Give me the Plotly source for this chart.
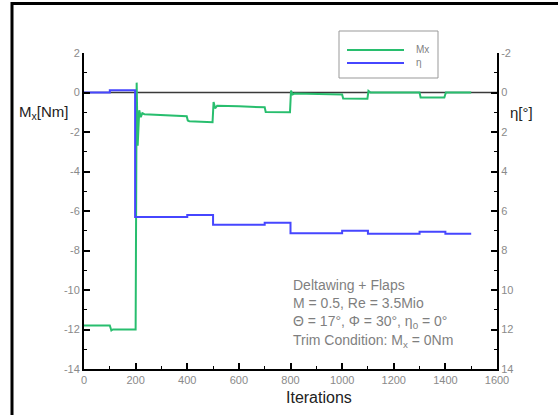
import plotly.graph_objects as go

# Rolling moment Mx [Nm] over solver iterations
mx_iter = [0, 100, 106, 112, 200, 204, 208, 214, 220, 226, 234, 260, 300, 398, 402, 408,
           498, 502, 508, 516, 600, 700, 704, 798, 802, 808, 816, 900, 1000, 1004,
           1098, 1102, 1110, 1200, 1300, 1304, 1396, 1402, 1500]
mx_val = [-11.8, -11.8, -12.05, -12.0, -12.0, 0.5, -2.7, -0.9, -1.25, -1.05, -1.1, -1.12, -1.15,
          -1.2, -1.42, -1.45, -1.5, -0.48, -0.8, -0.67, -0.7, -0.75, -0.99, -1.0, 0.1, -0.1,
          -0.05, -0.07, -0.1, -0.3, -0.32, 0.08, 0.0, 0.0, 0.0, -0.25, -0.25, 0.0, 0.0]

# Flap deflection eta [deg] over solver iterations
eta_iter = [0, 100, 100, 198, 198, 400, 400, 500, 500, 700, 700, 800, 800, 1000, 1000,
            1100, 1100, 1300, 1300, 1400, 1400, 1500]
eta_val = [0.0, 0.0, -0.12, -0.12, 6.3, 6.3, 6.2, 6.2, 6.7, 6.7, 6.6, 6.6, 7.13, 7.13, 7.0,
           7.0, 7.15, 7.15, 7.05, 7.05, 7.15, 7.15]

left_ticks = [2, 0, -2, -4, -6, -8, -10, -12, -14]
right_ticks = [-2, 0, 2, 4, 6, 8, 10, 12, 14]
x_ticks = [0, 200, 400, 600, 800, 1000, 1200, 1400, 1600]

GREEN = "rgb(40,190,110)"
BLUE = "rgb(70,70,255)"
TICKFONT = dict(family="Liberation Sans, Arial, sans-serif", size=11, color="#8a8a8a")

W, H = 558, 415
L, R, T, B = 84, 497, 53, 369


def px(x):
    return (x - L) / (R - L)


def py(y):
    return (B - y) / (B - T)


fig = go.Figure()
fig.add_trace(go.Scatter(x=mx_iter, y=mx_val, mode="lines", name="Mx",
                         line=dict(color=GREEN, width=2), showlegend=False))
fig.add_trace(go.Scatter(x=eta_iter, y=eta_val, mode="lines", name="η", yaxis="y2",
                         line=dict(color=BLUE, width=2), showlegend=False))

axis_common = dict(showline=True, linecolor="black", linewidth=2, ticks="inside",
                   ticklen=6, tickwidth=2, tickcolor="black", showgrid=False,
                   zeroline=False, tickfont=TICKFONT)

fig.update_layout(
    width=W, height=H,
    margin=dict(l=L, r=W - R, t=T, b=H - B),
    paper_bgcolor="white", plot_bgcolor="white",
    xaxis=dict(range=[0, 1600], tickvals=x_ticks, ticktext=[str(v) for v in x_ticks],
               minor=dict(ticks="inside", ticklen=3, tickwidth=1, tickcolor="black", dtick=100),
               **axis_common),
    yaxis=dict(range=[-14, 2], tickvals=left_ticks, ticktext=[str(v) for v in left_ticks],
               minor=dict(ticks="inside", ticklen=3, tickwidth=1, tickcolor="black", dtick=1),
               **axis_common),
    yaxis2=dict(range=[14, -2], overlaying="y", side="right", anchor="x",
                tickvals=right_ticks, ticktext=[str(v) for v in right_ticks],
                minor=dict(ticks="inside", ticklen=3, tickwidth=1, tickcolor="black", dtick=1),
                **axis_common),
)

shapes = [
    # zero reference line
    dict(type="line", xref="x", yref="y", x0=0, x1=1600, y0=0, y1=0,
         line=dict(color="#3a3a3a", width=1.5), layer="below"),
    # outer frame
    dict(type="line", xref="paper", yref="paper", x0=px(12), x1=px(12), y0=py(2), y1=py(430),
         line=dict(color="black", width=3)),
    dict(type="line", xref="paper", yref="paper", x0=px(11), x1=px(570), y0=py(3.5), y1=py(3.5),
         line=dict(color="black", width=3)),
    # legend box and samples
    dict(type="rect", xref="paper", yref="paper", x0=px(339), x1=px(438), y0=py(31), y1=py(78),
         line=dict(color="#999999", width=1), fillcolor="white"),
    dict(type="line", xref="paper", yref="paper", x0=px(347), x1=px(404), y0=py(50), y1=py(50),
         line=dict(color=GREEN, width=2)),
    dict(type="line", xref="paper", yref="paper", x0=px(347), x1=px(404), y0=py(63), y1=py(63),
         line=dict(color=BLUE, width=2)),
]
fig.update_layout(shapes=shapes)

GRAY = "#7f7f7f"
ann = [
    dict(text="Mx", x=px(414), y=py(50), xanchor="left", yanchor="middle",
         font=dict(family="Liberation Sans, Arial", size=10, color=GRAY)),
    dict(text="η", x=px(414), y=py(63), xanchor="left", yanchor="middle",
         font=dict(family="Liberation Sans, Arial", size=10, color=GRAY)),
    dict(text="M<sub>x</sub>[Nm]", x=px(17), y=py(112), xanchor="left", yanchor="middle",
         font=dict(family="Liberation Sans, Arial", size=15, color="#222222")),
    dict(text="η[°]", x=px(508), y=py(112), xanchor="left", yanchor="middle",
         font=dict(family="Liberation Sans, Arial", size=15, color="#222222")),
    dict(text="Iterations", x=px(319), y=py(397), xanchor="center", yanchor="middle",
         font=dict(family="Liberation Sans, Arial", size=16, color="#222222")),
    dict(text="Deltawing + Flaps<br>M = 0.5, Re = 3.5Mio<br>Θ = 17°, Φ = 30°, η<sub>0</sub> = 0°"
              "<br>Trim Condition: M<sub>x</sub> = 0Nm",
         x=px(291), y=py(275), xanchor="left", yanchor="top", align="left",
         font=dict(family="Liberation Sans, Arial", size=14, color=GRAY)),
]
for a in ann:
    a.update(xref="paper", yref="paper", showarrow=False)
fig.update_layout(annotations=ann)

fig.write_html("out.html")
